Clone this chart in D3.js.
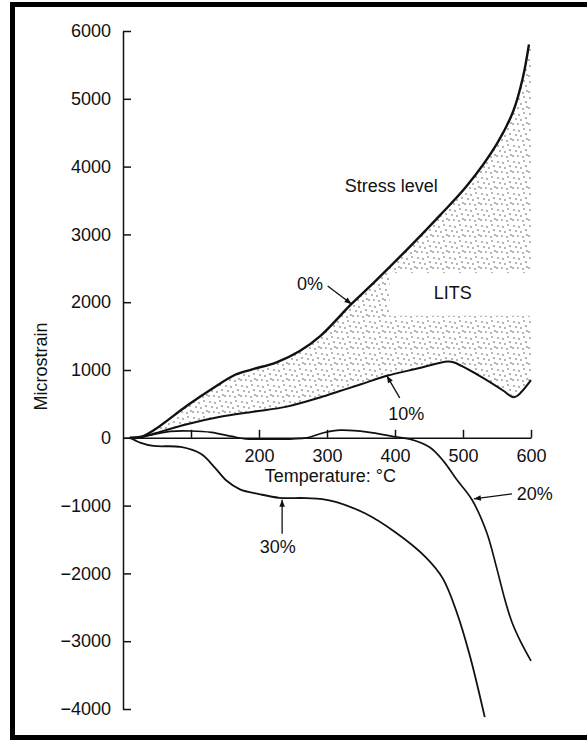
<!DOCTYPE html>
<html>
<head>
<meta charset="utf-8">
<script src="https://cdn.jsdelivr.net/npm/d3@7"></script>
<style>
    body { margin: 0; background: #fff; }
    text { font-family: "Liberation Sans", Arial, sans-serif; fill: #111; }
</style>
</head>
<body>
<div id="chart"></div>
<script>
const width = 587;
const height = 740;

// tick values and labels
const xTicks = [100, 200, 300, 400, 500, 600];
const xTickLabels = ["", "200", "300", "400", "500", "600"];
const yTicks = [-4000, -3000, -2000, -1000, 0, 1000, 2000, 3000, 4000, 5000, 6000];

// strain vs temperature, one array per stress level: [temperature °C, microstrain]
const stress0 = [[10, 0], [25, 5], [45, 110], [95, 480], [135, 750], [165, 930], [190, 1010],
    [225, 1110], [260, 1280], [290, 1500], [336, 1975], [370, 2300], [418, 2780], [447, 3080],
    [466, 3280], [506, 3720], [550, 4340], [574, 4820], [588, 5310], [597, 5800]];
const stress10 = [[10, 0], [25, 5], [45, 60], [94, 200], [143, 310], [192, 385], [241, 460],
    [290, 595], [319, 690], [350, 790], [388, 914], [430, 1015], [478, 1125], [487, 1110],
    [525, 910], [560, 690], [573, 600], [580, 620], [600, 850]];
const stress20 = [[10, 0], [40, 40], [70, 95], [100, 100], [130, 80], [160, 20], [180, -15],
    [220, -20], [250, -15], [270, 0], [295, 75], [320, 112], [360, 85], [400, 15], [422, -20],
    [451, -140], [471, -340], [491, -620], [513, -910], [535, -1400], [549, -1900],
    [562, -2400], [572, -2720], [584, -2990], [600, -3290]];
const stress30 = [[10, 0], [25, -70], [45, -120], [85, -135], [115, -240], [135, -440],
    [152, -630], [172, -760], [200, -830], [230, -885], [270, -890], [305, -925], [355, -1110],
    [400, -1390], [445, -1760], [470, -2070], [490, -2550], [510, -3210], [532, -4120]];

// white window in the stippled band where "LITS" sits
const litsGapT = [392, 600];
const litsGapV = [1800, 2430];

const svg = d3.select("#chart")
    .append("svg")
    .attr("width", width)
    .attr("height", height);

const defs = svg.append("defs");

// stipple pattern
const pat = defs.append("pattern")
    .attr("id", "stipple")
    .attr("patternUnits", "userSpaceOnUse")
    .attr("width", 16)
    .attr("height", 16);
[[2, 2], [7, 3], [12, 1], [4, 7], [9, 8], [14, 6], [1, 12], [6, 12], [11, 13], [15, 11]].forEach(function (p) {
    pat.append("circle")
        .attr("cx", p[0]).attr("cy", p[1])
        .attr("r", 0.7)
        .attr("fill", "#333");
});

defs.append("marker")
    .attr("id", "arrow")
    .attr("viewBox", "0 0 10 10")
    .attr("refX", 10)
    .attr("refY", 5)
    .attr("markerWidth", 11)
    .attr("markerHeight", 7)
    .attr("markerUnits", "userSpaceOnUse")
    .attr("orient", "auto")
    .append("path")
    .attr("d", "M0,1 L10,5 L0,9 Z")
    .attr("fill", "#111");

// frame
svg.append("rect")
    .attr("x", 12.5)
    .attr("y", 4.5)
    .attr("width", 640)
    .attr("height", 733)
    .attr("fill", "none")
    .attr("stroke", "#000")
    .attr("stroke-width", 5);

const xScale = d3.scaleLinear().domain([0, 600]).range([123, 531]);
const yScale = d3.scaleLinear().domain([-4000, 6000]).range([709, 31]);

const line = d3.line()
    .x(function (d) { return xScale(d[0]); })
    .y(function (d) { return yScale(d[1]); })
    .curve(d3.curveCatmullRom.alpha(0.5));

// shaded band between 0% and 10%
const top0 = stress0[stress0.length - 1];
const bandPath = line(stress0)
    + "L" + xScale(600) + "," + yScale(top0[1])
    + line(stress10.slice().reverse()).replace("M", "L")
    + "Z";
svg.append("path")
    .attr("d", bandPath)
    .attr("fill", "url(#stipple)");

svg.append("rect")
    .attr("x", xScale(litsGapT[0]))
    .attr("y", yScale(litsGapV[1]))
    .attr("width", xScale(litsGapT[1]) - xScale(litsGapT[0]) + 3)
    .attr("height", yScale(litsGapV[0]) - yScale(litsGapV[1]))
    .attr("fill", "#fff");

// axes
const xAxis = d3.axisBottom(xScale)
    .tickValues(xTicks)
    .tickFormat(function (d, i) { return xTickLabels[i]; })
    .tickSize(-8)
    .tickSizeOuter(0)
    .tickPadding(11);
const gx = svg.append("g")
    .attr("transform", "translate(0," + yScale(0) + ")")
    .call(xAxis);

const yAxis = d3.axisLeft(yScale)
    .tickValues(yTicks)
    .tickFormat(d3.format("d"))
    .tickSize(-8)
    .tickSizeOuter(0)
    .tickPadding(12);
const gy = svg.append("g")
    .attr("transform", "translate(" + xScale(0) + ",0)")
    .call(yAxis);

[gx, gy].forEach(function (g) {
    g.selectAll("path, line").attr("stroke", "#111").attr("stroke-width", 1.5);
    g.selectAll("text").attr("font-size", 18).attr("fill", "#111");
});
gy.selectAll("text").text(function (d) { return d < 0 ? "\u2212" + Math.abs(d) : d; });

// curves
[[stress0, 2.4], [stress10, 2], [stress20, 1.7], [stress30, 1.8]].forEach(function (s) {
    svg.append("path")
        .datum(s[0])
        .attr("d", line)
        .attr("fill", "none")
        .attr("stroke", "#111")
        .attr("stroke-width", s[1]);
});

// axis titles
svg.append("text")
    .text("Temperature: \u00B0C")
    .attr("text-anchor", "middle")
    .attr("x", xScale(305))
    .attr("y", yScale(-650))
    .attr("font-size", 18);
svg.append("text")
    .text("Microstrain")
    .attr("text-anchor", "middle")
    .attr("transform", "translate(" + (xScale(0) - 76) + "," + yScale(1050) + ") rotate(-90)")
    .attr("font-size", 18);

// annotations: [label, temp, strain, anchor]
const notes = [
    ["Stress level", 326, 3630, "start"],
    ["LITS", 485, 2050, "middle"],
    ["0%", 256, 2185, "start"],
    ["10%", 390, 265, "start"],
    ["20%", 579, -914, "start"],
    ["30%", 201, -1696, "start"]
];
notes.forEach(function (n) {
    svg.append("text")
        .text(n[0])
        .attr("x", xScale(n[1]))
        .attr("y", yScale(n[2]))
        .attr("text-anchor", n[3])
        .attr("font-size", 18);
});

// arrows pointing at each curve: from [t, v] to [t, v]
const arrows = [
    [[301, 2240], [336, 1975]],
    [[407, 590], [388, 914]],
    [[572, -826], [516, -900]],
    [[234, -1416], [234, -915]]
];
arrows.forEach(function (a) {
    svg.append("line")
        .attr("x1", xScale(a[0][0]))
        .attr("y1", yScale(a[0][1]))
        .attr("x2", xScale(a[1][0]))
        .attr("y2", yScale(a[1][1]))
        .attr("stroke", "#111")
        .attr("stroke-width", 1.3)
        .attr("marker-end", "url(#arrow)");
});
</script>
</body>
</html>
